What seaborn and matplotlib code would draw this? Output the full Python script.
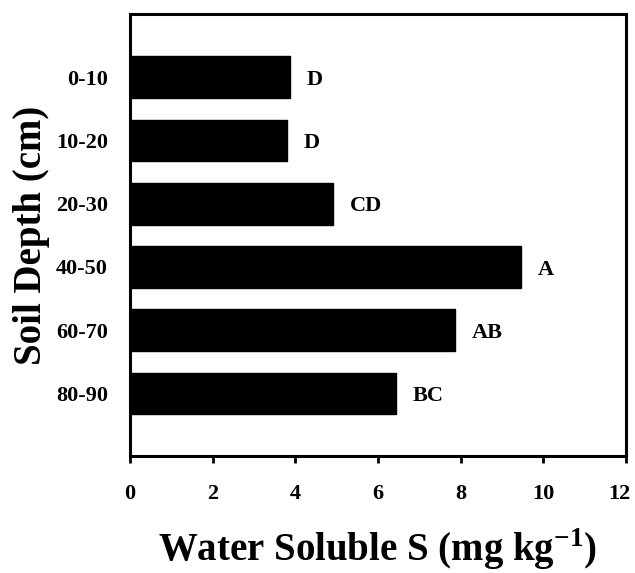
import matplotlib
matplotlib.use('Agg')
import matplotlib.pyplot as plt
import matplotlib.transforms as mtrans
import seaborn as sns
import pandas as pd

# 데이터
depths = ['0-10', '10-20', '20-30', '40-50', '60-70', '80-90']
water_s = [3.87, 3.79, 4.92, 9.46, 7.87, 6.43]
letters = ['D', 'D', 'CD', 'A', 'AB', 'BC']

df = pd.DataFrame({'depth': depths, 'S': water_s})

sns.set_style('ticks')
plt.rcParams['font.family'] = ['Liberation Serif', 'DejaVu Serif']
plt.rcParams['font.weight'] = 'bold'
plt.rcParams['mathtext.fontset'] = 'custom'
plt.rcParams['mathtext.rm'] = 'Liberation Serif:bold'
plt.rcParams['mathtext.bf'] = 'Liberation Serif:bold'
# 글자색 검정으로
plt.rcParams['text.color'] = 'black'
plt.rcParams['axes.labelcolor'] = 'black'
plt.rcParams['xtick.color'] = 'black'
plt.rcParams['ytick.color'] = 'black'

fig = plt.figure(figsize=(6.35, 5.73), dpi=100)
ax = fig.add_axes([0.2047, 0.2042, 0.9858 - 0.2047, 0.9756 - 0.2042])

sns.barplot(data=df, x='S', y='depth', orient='h', color='black',
            width=0.66, saturation=1, edgecolor='black', ax=ax)

# 통계 문자 표시
for i, (v, lab) in enumerate(zip(water_s, letters)):
    ax.annotate(lab, xy=(v, i), xytext=(12, -2), textcoords='offset points',
                ha='left', va='center', fontsize=16, fontweight='bold',
                color='black')

ax.set_xlim(0, 12)
ax.set_ylim(5.99, -1)
ax.set_xticks(range(0, 13, 2))

ax.set_xlabel('Water Soluble S (mg kg$^{-1}$)', fontsize=28,
              fontweight='bold', labelpad=16, color='black')
ax.set_ylabel('Soil Depth (cm)', fontsize=28, fontweight='bold', labelpad=4,
              color='black')

ax.tick_params(axis='x', length=5, width=2, direction='out', pad=15,
               labelsize=16, colors='black')
ax.tick_params(axis='y', length=0, pad=16, labelsize=16, colors='black')
for lab in ax.get_xticklabels() + ax.get_yticklabels():
    lab.set_fontweight('bold')

# 마지막 눈금 라벨 살짝 왼쪽으로
last = ax.get_xticklabels()[-1]
last.set_transform(last.get_transform() +
                   mtrans.ScaledTranslation(-5 / 72, 0, fig.dpi_scale_trans))

for s in ax.spines.values():
    s.set_linewidth(2.2)
    s.set_color('black')

fig.savefig('out.png', dpi=100)
